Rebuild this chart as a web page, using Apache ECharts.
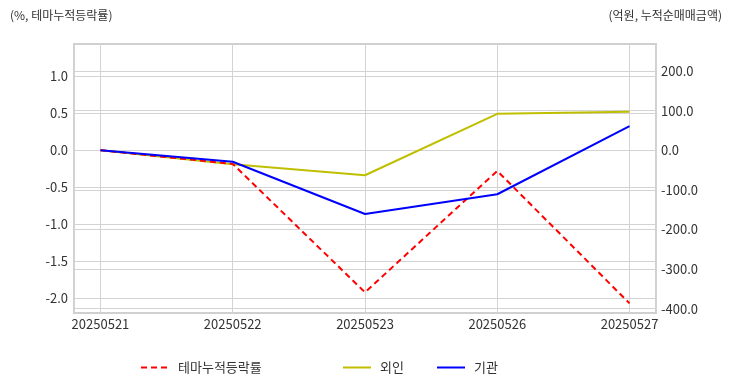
<!DOCTYPE html>
<html><head><meta charset="utf-8">
<script src="https://cdn.jsdelivr.net/npm/echarts@6/dist/echarts.min.js"></script>
<style>html,body{margin:0;padding:0;background:#fff}#c{width:732px;height:392px}</style>
</head><body><div id="c"></div>
<script>
const categories = ['20250521','20250522','20250523','20250526','20250527'];
const themeReturn = [0, -0.185, -1.92, -0.28, -2.07];
const foreign = [0, -35, -63, 92, 97];
const institution = [0, -29, -161, -111, 61];
const leftTicks = [-2.0, -1.5, -1.0, -0.5, 0.0, 0.5, 1.0];
const rightTicks = [-400, -300, -200, -100, 0, 100, 200];
const seriesNames = ['테마누적등락률', '외인', '기관'];

const FONT = '"Noto Sans CJK KR", "Noto Sans", sans-serif';
const idx = categories.map((_, i) => i);
const pair = arr => arr.map((v, i) => [i, v]);

const chart = echarts.init(document.getElementById('c'));
const legendBase = {
  bottom: 13, itemWidth: 28, itemHeight: 10, itemGap: 0,
  itemStyle: { opacity: 0 },
  textStyle: { fontFamily: FONT, fontSize: 13, color: '#333', padding: [0, 0, 0, 4] }
};
chart.setOption({
  animation: false,
  textStyle: { fontFamily: FONT },
  grid: { left: 74, right: 76, top: 44, bottom: 79, show: true, borderColor: '#d0d0d0', borderWidth: 2 },
  graphic: [
    { type: 'text', left: 10, top: 9, style: { text: '(%, 테마누적등락률)', font: '12px ' + FONT, fill: '#333' } },
    { type: 'text', right: 10, top: 9, style: { text: '(억원, 누적순매매금액)', font: '12px ' + FONT, fill: '#333' } }
  ],
  legend: [
    Object.assign({}, legendBase, { left: 135, data: [seriesNames[0]] }),
    Object.assign({}, legendBase, { left: 337, data: [seriesNames[1]] }),
    Object.assign({}, legendBase, { left: 431, data: [seriesNames[2]] })
  ],
  xAxis: {
    type: 'value', min: -0.2, max: 4.2,
    axisLine: { show: false }, axisTick: { show: false },
    splitLine: { show: true, lineStyle: { color: '#d3d3d3', width: 1 } },
    axisLabel: {
      customValues: idx, color: '#333', fontSize: 13, margin: 5,
      formatter: v => categories[Math.round(v)]
    }
  },
  yAxis: [
    {
      type: 'value', min: -2.2, max: 1.436,
      axisLine: { show: false }, axisTick: { show: false, customValues: leftTicks },
      splitLine: { show: true, lineStyle: { color: '#d3d3d3', width: 1 } },
      axisLabel: { customValues: leftTicks, color: '#333', fontSize: 13, margin: 6, formatter: v => v.toFixed(1) }
    },
    {
      type: 'value', min: -410.9, max: 268.4,
      axisLine: { show: false }, axisTick: { show: false, customValues: rightTicks },
      splitLine: { show: true, lineStyle: { color: '#d3d3d3', width: 1 } },
      axisLabel: { customValues: rightTicks, color: '#333', fontSize: 13, margin: 5, formatter: v => v.toFixed(1) }
    }
  ],
  series: [
    { name: seriesNames[0], type: 'line', yAxisIndex: 0, data: pair(themeReturn), symbol: 'none',
      lineStyle: { color: '#ff0000', width: 2, type: [6, 4] }, itemStyle: { color: '#ff0000' }, z: 3 },
    { name: seriesNames[1], type: 'line', yAxisIndex: 1, data: pair(foreign), symbol: 'none',
      lineStyle: { color: '#bfbf00', width: 2 }, itemStyle: { color: '#bfbf00' }, z: 2 },
    { name: seriesNames[2], type: 'line', yAxisIndex: 1, data: pair(institution), symbol: 'none',
      lineStyle: { color: '#0000ff', width: 2 }, itemStyle: { color: '#0000ff' }, z: 4 }
  ]
});
</script></body></html>
